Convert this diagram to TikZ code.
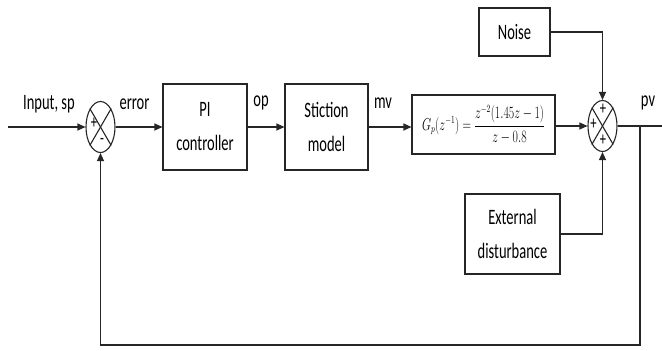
\documentclass[tikz,border=0pt]{standalone}
\usepackage{fontspec}
\setmainfont{Carlito}[FakeStretch=0.66]
\usepackage{graphicx}
\usetikzlibrary{arrows.meta,shapes.geometric,calc}
\tikzset{
  blk/.style={draw=black!85, line width=1.1pt, fill=white, align=center, inner sep=0pt,
    font=\fontsize{22}{34}\selectfont},
  sumj/.style={draw=black!85, line width=1.1pt, ellipse, minimum width=29pt, minimum height=51pt, inner sep=0pt},
  wire/.style={draw=black!85, line width=1.1pt},
  arr/.style={wire, -{Triangle[length=8pt,width=7pt]}},
  lbl/.style={font=\fontsize{22}{26}\selectfont, inner sep=0pt},
  sgn/.style={font=\fontsize{19}{19}\selectfont, inner sep=0pt},
}
\begin{document}
\begin{tikzpicture}[x=1pt,y=-1pt]
\useasboundingbox (0,0) rectangle (662,351);
% nodes
\coordinate (in) at (8,127);
\node[sumj] (s1) at (100.5,127) {};
\node[blk, minimum width=84pt, minimum height=86pt] (pi) at (205,127) {PI\\controller};
\node[blk, minimum width=83pt, minimum height=86pt] (st) at (326.5,127) {Stiction\\model};
\node[blk, minimum width=143pt, minimum height=59pt] (gp) at (483.5,124.5) {\scalebox{0.68}[1]{\fontsize{16}{18}\selectfont$\displaystyle G_p(z^{-1})=\frac{z^{-2}(1.45z-1)}{z-0.8}$}};
\node[sumj] (s2) at (602.5,126) {};
\node[blk, minimum width=71pt, minimum height=48pt] (noise) at (514.5,32) {Noise};
\node[blk, minimum width=95pt, minimum height=80pt] (ext) at (512.5,234) {External\\disturbance};
\coordinate (out) at (662,126);
\coordinate (br) at (640,126);
\coordinate (fb) at (640,345);
% crosses
\foreach \s in {s1,s2}{
  \draw[wire] (\s.north west) -- (\s.south east);
  \draw[wire] (\s.north east) -- (\s.south west);
}
% signs
\node[sgn] (p1) at (94,123) {+};
\node[sgn] (m1) at (102,141) {-};
\node[sgn] (p2) at (603,109) {+};
\node[sgn] (p3) at (593.5,124) {+};
\node[sgn] (p4) at (603,140) {+};
% connectors
\draw[arr] (in) -- (s1.west);
\draw[arr] (s1.east) -- (s1.east -| pi.west);
\draw[arr] (pi.east |- st.west) -- (st.west);
\draw[arr] (st.east) -- (st.east -| gp.west);
\draw[arr] (gp.east |- s2.west) -- (s2.west);
\draw[wire] (s2.east) -- (out);
\draw[arr] (noise.east) -| (s2.north);
\draw[arr] (ext.east) -| (s2.south);
\draw[arr] (br) -- (fb) -| (s1.south);
% labels
\node[lbl] (lin) at (49,104) {Input, sp};
\node[lbl] (lerr) at (134.5,104) {error};
\node[lbl] (lop) at (261,103) {op};
\node[lbl] (lmv) at (383,103) {mv};
\node[lbl] (lpv) at (648,103) {pv};
\end{tikzpicture}
\end{document}
